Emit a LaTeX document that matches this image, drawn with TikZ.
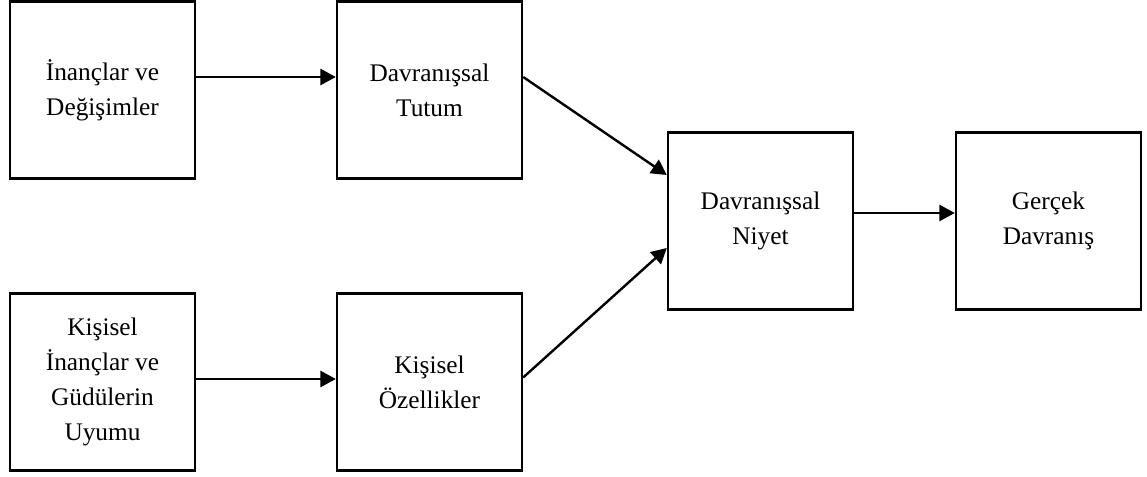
\documentclass[tikz,border=0pt]{standalone}
\usepackage{fontspec}
\setmainfont{Liberation Serif}
\usetikzlibrary{arrows.meta}
\begin{document}
\begin{tikzpicture}[x=0.75pt,y=-0.75pt,
  box/.style={draw, line width=1.8pt, rectangle, inner sep=0pt,
    minimum width=138.75pt, minimum height=133pt, align=center,
    font=\fontsize{19}{26.25}\selectfont},
  link/.style={line width=1.8pt, -{Triangle[length=11.5pt,width=12pt]}}]
  \useasboundingbox (0,0) rectangle (1147,477);
  % boxes
  \node[box] (bel) at (102.5,90) {İnançlar ve\\Değişimler};
  \node[box] (att) at (429.5,90) {Davranışsal\\Tutum};
  \node[box] (mot) at (102.5,382) {Kişisel\\İnançlar ve\\Güdülerin\\Uyumu};
  \node[box] (per) at (429.5,382) {Kişisel\\Özellikler};
  \node[box] (int) at (760.5,221) {Davranışsal\\Niyet};
  \node[box] (act) at (1048.5,221) {Gerçek\\Davranış};
  % connectors
  \draw[link] ([yshift=9.75pt]bel.east) -- ([yshift=9.75pt]att.west);
  \draw[link] ([yshift=2.25pt]mot.east) -- ([yshift=2.25pt]per.west);
  \draw[link] ([yshift=9.75pt]att.east) -- ([yshift=34.5pt]int.west);
  \draw[link] ([yshift=3.4pt]per.east) -- ([yshift=-20.25pt]int.west);
  \draw[link] ([yshift=6pt]int.east) -- ([yshift=6pt]act.west);
\end{tikzpicture}
\end{document}
